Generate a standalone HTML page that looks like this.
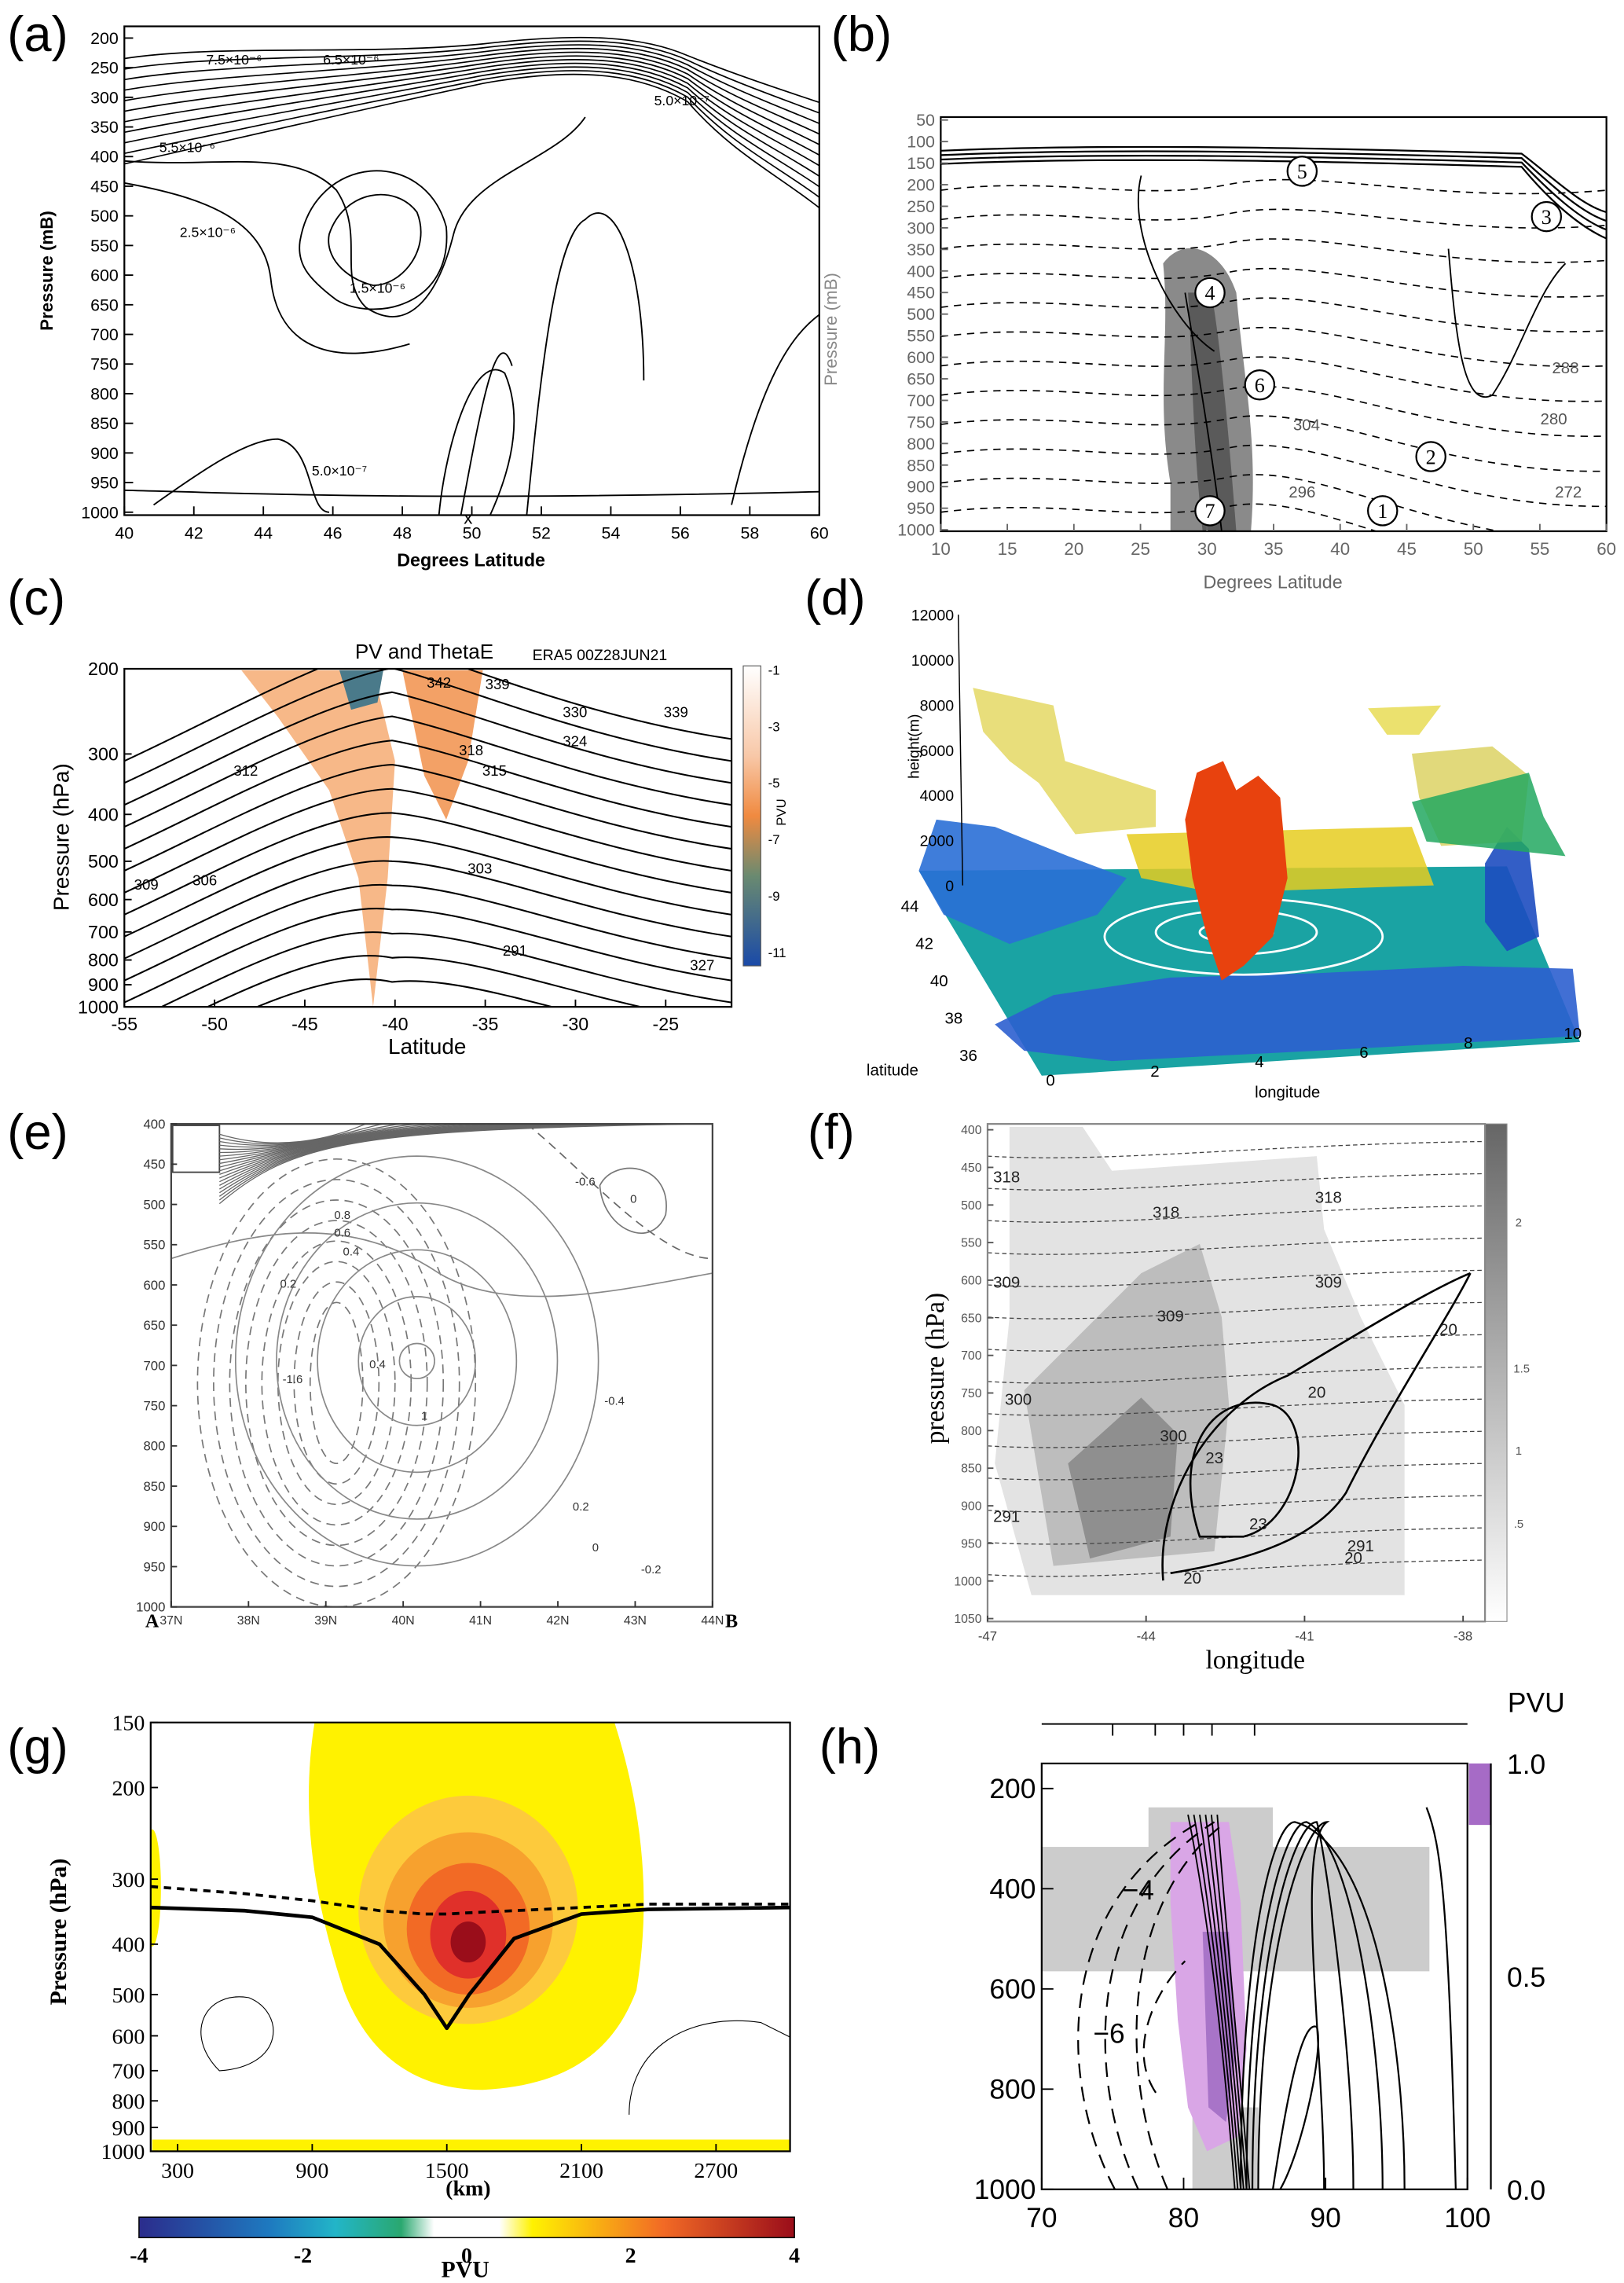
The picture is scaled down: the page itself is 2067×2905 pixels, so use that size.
<!DOCTYPE html>
<html><head><meta charset="utf-8">
<style>
html,body{margin:0;padding:0;background:#fff;}
svg{display:block;font-family:"Liberation Sans",sans-serif;}
.ser{font-family:"Liberation Serif",serif;}
</style></head>
<body>
<svg id="fig" xmlns="http://www.w3.org/2000/svg" width="2067" height="2905" viewBox="0 0 1110 1560" preserveAspectRatio="none">
<defs>
  <clipPath id="ca"><rect x="85" y="18" width="475" height="334"/></clipPath>
  <clipPath id="cb"><rect x="643" y="80" width="455" height="283"/></clipPath>
  <clipPath id="cc"><rect x="85" y="457" width="415" height="231"/></clipPath>
  <clipPath id="ce"><rect x="117" y="768" width="370" height="330"/></clipPath>
  <clipPath id="cf"><rect x="675" y="768" width="340" height="340"/></clipPath>
  <clipPath id="cg"><rect x="103" y="1177" width="437" height="293"/></clipPath>
  <clipPath id="ch"><rect x="712" y="1205" width="291" height="291"/></clipPath>
  <linearGradient id="fgrad" x1="0" y1="1" x2="0" y2="0"><stop offset="0" stop-color="#fff"/><stop offset="1" stop-color="#666"/></linearGradient>
  <linearGradient id="gbar" x1="0" x2="1"><stop offset="0" stop-color="#2b2c8c"/><stop offset="0.2" stop-color="#1e7ac0"/><stop offset="0.3" stop-color="#22b5c8"/><stop offset="0.4" stop-color="#2aa870"/><stop offset="0.45" stop-color="#fff"/><stop offset="0.55" stop-color="#fff"/><stop offset="0.6" stop-color="#fff200"/><stop offset="0.8" stop-color="#f26a25"/><stop offset="1" stop-color="#9a0d1a"/></linearGradient>
  <linearGradient id="cbar" x1="0" y1="0" x2="0" y2="1"><stop offset="0" stop-color="#fff"/><stop offset="0.3" stop-color="#f8c8a8"/><stop offset="0.5" stop-color="#f08a40"/><stop offset="0.7" stop-color="#6a8a70"/><stop offset="1" stop-color="#1a4aa8"/></linearGradient>
</defs>
<!-- Panel d static 3D imagery -->
<g>
  <polygon points="628,595 1030,592 1080,712 712,735" fill="#1aa3a3"/>
  <polygon points="628,595 640,560 680,565 730,585 770,600 750,625 690,645 645,625" fill="#2a6fd6" opacity="0.9"/>
  <polygon points="680,700 720,680 800,668 900,665 1000,660 1075,662 1080,708 900,718 760,725 700,718" fill="#2c5fcf" opacity="0.9"/>
  <polygon points="1015,590 1030,565 1045,580 1052,640 1030,650 1015,630" fill="#1d4cc0" opacity="0.9"/>
  <ellipse cx="850" cy="640" rx="95" ry="26" fill="none" stroke="#fff" stroke-width="1.5"/>
  <ellipse cx="845" cy="637" rx="55" ry="15" fill="none" stroke="#fff" stroke-width="1.5"/>
  <ellipse cx="845" cy="637" rx="25" ry="7" fill="none" stroke="#fff" stroke-width="1.5"/>
  <path d="M665,470 L720,482 L728,520 L790,540 L790,565 L735,570 L710,535 L690,520 L672,500 Z" fill="#e2d65a" opacity="0.8"/>
  <path d="M965,515 L1020,510 L1045,530 L1040,575 L985,578 L970,545 Z" fill="#d9cf5a" opacity="0.8"/>
  <path d="M935,484 L985,482 L970,502 L948,502 Z" fill="#e8dc55" opacity="0.85"/>
  <path d="M770,570 L965,565 L980,605 L830,610 L780,600 Z" fill="#e6cc20" opacity="0.85"/>
  <path d="M965,548 L1045,528 L1055,558 L1070,585 L975,575 Z" fill="#22a860" opacity="0.85"/>
  <path d="M818,528 L836,520 L845,540 L860,530 L875,545 L880,600 L870,640 L850,660 L835,670 L825,640 L815,600 L810,560 Z" fill="#e8420e"/>
</g>
<g clip-path="url(#cg)">
  <path d="M215,1177 L420,1177 C440,1240 445,1300 435,1360 C420,1400 390,1425 330,1428 C280,1428 250,1400 235,1360 C215,1300 205,1240 215,1177 Z" fill="#fff200"/>
  <ellipse cx="320" cy="1305" rx="75" ry="78" fill="#fdca3c"/>
  <ellipse cx="320" cy="1312" rx="58" ry="60" fill="#f7a12e"/>
  <ellipse cx="320" cy="1318" rx="42" ry="45" fill="#f26a25"/>
  <ellipse cx="320" cy="1322" rx="26" ry="30" fill="#e0302a"/>
  <ellipse cx="320" cy="1327" rx="12" ry="14" fill="#9a0d1a"/>
  <rect x="104" y="1462" width="436" height="8" fill="#fff200"/>
  <ellipse cx="104" cy="1290" rx="6" ry="40" fill="#fff200"/>
</g>
<g clip-path="url(#ch)">
  <rect x="712" y="1262" width="265" height="85" fill="#cccccc"/>
  <rect x="785" y="1235" width="85" height="30" fill="#cccccc"/>
  <rect x="815" y="1440" width="45" height="56" fill="#cccccc"/>
  <path d="M800,1245 L840,1245 L848,1300 L852,1400 L846,1460 L825,1470 L812,1440 L805,1380 L800,1300 Z" fill="#d9a6e6"/>
  <path d="M822,1320 L840,1320 L845,1400 L838,1450 L826,1440 Z" fill="#a874c8"/>
</g>
<rect x="1004" y="1205" width="15" height="42" fill="#a66bc6"/>
<g clip-path="url(#cc)">
  <path d="M165,458 L255,458 L270,520 L265,600 L255,688 L245,600 L225,540 L190,490 Z" fill="#f4a060" opacity="0.75"/>
  <path d="M275,458 L330,458 L320,520 L305,560 L290,530 Z" fill="#f08a40" opacity="0.8"/>
  <path d="M232,458 L262,458 L258,480 L240,485 Z" fill="#4a7a8a"/>
</g>
<g clip-path="url(#cf)">
  <path d="M690,770 L740,770 L760,800 L900,790 L905,840 L930,900 L960,960 L960,1090 L705,1090 L680,1000 L690,900 Z" fill="#e3e3e3"/>
  <path d="M700,950 L780,870 L820,850 L835,900 L840,960 L830,1060 L720,1070 Z" fill="#bdbdbd"/>
  <path d="M730,1000 L780,955 L805,980 L800,1050 L745,1065 Z" fill="#8f8f8f"/>
</g>
<rect x="1015" y="768" width="15" height="340" fill="url(#fgrad)" stroke="#888" stroke-width="0.6"/>
<rect x="95" y="1515" width="448" height="14" fill="url(#gbar)" stroke="#000" stroke-width="0.8"/>
<rect x="508" y="455" width="12" height="205" fill="url(#cbar)" stroke="#555" stroke-width="0.6"/>
<g id="dyn"></g>
</svg>
<script>
// ---- data arrays ----
const aLatTicks=[40,42,44,46,48,50,52,54,56,58,60];
const aPresTicks=[200,250,300,350,400,450,500,550,600,650,700,750,800,850,900,950,1000];
const bLatTicks=[10,15,20,25,30,35,40,45,50,55,60];
const bPresTicks=[50,100,150,200,250,300,350,400,450,500,550,600,650,700,750,800,850,900,950,1000];
const cLatTicks=[-55,-50,-45,-40,-35,-30,-25];
const cPresTicks=[200,300,400,500,600,700,800,900,1000];
const cBarTicks=[-1,-3,-5,-7,-9,-11];
const dHeightTicks=[0,2000,4000,6000,8000,10000,12000];
const dLonTicks=[0,2,4,6,8,10];
const dLatTicks=[36,38,40,42,44];
const eLatTicks=["37N","38N","39N","40N","41N","42N","43N","44N"];
const ePresTicks=[400,450,500,550,600,650,700,750,800,850,900,950,1000];
const fLonTicks=[-47,-44,-41,-38];
const fPresTicks=[400,450,500,550,600,650,700,750,800,850,900,950,1000,1050];
const gKmTicks=[300,900,1500,2100,2700];
const gPresTicks=[150,200,300,400,500,600,700,800,900,1000];
const gBarTicks=[-4,-2,0,2,4];
const hLonTicks=[70,80,90,100];
const hPresTicks=[200,400,600,800,1000];
const hPvuTicks=[0.0,0.5,1.0];
const gTropoKm=[180,600,900,1200,1400,1500,1600,1800,2100,2400,3030];
const gTropoP=[340,345,355,400,500,580,500,390,350,343,340];
const gDashP=[310,320,330,345,350,350,348,345,340,335,335];

const NS="http://www.w3.org/2000/svg";
const top0=document.getElementById('dyn');
let cur=top0;
function grp(clip){const g=document.createElementNS(NS,'g');if(clip)g.setAttribute('clip-path','url(#'+clip+')');top0.appendChild(g);cur=g;return g;}
function mk(tag,at){const e=document.createElementNS(NS,tag);for(const k in at)e.setAttribute(k,at[k]);cur.appendChild(e);return e;}
function lin(d0,d1,r0,r1){return v=>r0+(v-d0)/(d1-d0)*(r1-r0);}
function logs(d0,d1,r0,r1){return v=>r0+Math.log(v/d0)/Math.log(d1/d0)*(r1-r0);}
function txt(x,y,s,size,anchor,fill,cls,rot){const t=mk('text',{x:x,y:y,'font-size':size,'text-anchor':anchor||'middle',fill:fill||'#000'});if(cls)t.setAttribute('class',cls);if(rot)t.setAttribute('transform','rotate(-90 '+x+' '+y+')');t.textContent=s;return t;}
function box(x0,y0,x1,y1,name,col){const r=mk('rect',{x:x0,y:y0,width:x1-x0,height:y1-y0,fill:'none',stroke:col||'#000','stroke-width':1.2});

}
function xticks(vals,labels,sx,y,size,col,len,cls,dy){vals.forEach((v,i)=>{const x=sx(v);const l=mk('line',{x1:x,y1:y,x2:x,y2:y-(len||5),stroke:col||'#000','stroke-width':1});


const t=txt(x,y+(dy||16),labels[i],size,'middle',col,cls);

});}
function yticks(vals,labels,sy,x,size,col,len,cls,anchor,dx){vals.forEach((v,i)=>{const y=sy(v);const l=mk('line',{x1:x,y1:y,x2:x+(len||5),y2:y,stroke:col||'#000','stroke-width':1});


const t=txt(x+(dx||-4),y+size*0.35,labels[i],size,anchor||'end',col,cls);

});}
function label(x,y,s,size,name,opts){opts=opts||{};const t=txt(x,y,s,size,opts.anchor||'middle',opts.fill,opts.cls,opts.rot);if(opts.bold)t.setAttribute('font-weight','bold');

return t;}
function path(d,name,stroke,w,dash,fill){const p=mk('path',{d:d,stroke:stroke||'#000','stroke-width':w||1,fill:fill||'none'});if(dash)p.setAttribute('stroke-dasharray',dash);

return p;}

grp();
[['(a)',5,35],['(b)',568,35],['(c)',5,420],['(d)',550,420],['(e)',5,785],['(f)',552,785],['(g)',5,1205],['(h)',560,1205]].forEach(p=>{label(p[1],p[2],p[0],34,'panel-label',{anchor:'start'});});

// ---- Panel a ----
{const sx=lin(40,60,85,560),sy=lin(200,1000,26,350);
grp('ca');
for(let k=0;k<11;k++){const o=k*4.5;path('M85,'+(40+o*1.6)+' C150,'+(30+o*1.5)+' 250,'+(38+o*0.8)+' 330,'+(30+o*0.6)+' C400,'+(22+o*0.5)+' 440,'+(25+o*0.6)+' 470,'+(38+o*0.7)+' C500,'+(50+o*1.2)+' 530,'+(60+o*1.3)+' 560,'+(70+o*1.6),'contour-line','#000',0.9);}
path('M85,110 C150,115 200,100 230,130 C250,160 230,190 250,210 C280,230 300,200 310,160 C320,120 380,110 400,80','contour-line','#000',1);
path('M85,125 C140,135 180,150 185,190 C190,240 230,250 280,235','contour-line','#000',1);
path('M225,160 C235,130 270,125 285,145 C295,170 275,195 255,195 C235,190 222,175 225,160Z','contour-line','#000',1);
path('M205,165 C215,105 290,100 305,155 C310,210 255,220 230,205 C210,190 203,180 205,165Z','contour-line','#000',1);
path('M300,352 C305,300 325,240 345,255 C360,290 345,330 335,352','contour-line','#000',1);
path('M315,352 C330,270 340,220 350,250','contour-line','#000',1);
path('M360,352 C370,250 380,160 400,150 C420,130 440,180 440,260','contour-line','#000',1);
path('M500,345 C520,260 540,230 560,215','contour-line','#000',1);
path('M105,345 C140,320 170,300 190,300 C215,305 210,350 225,350','contour-line','#000',1);
path('M85,335 C200,338 300,342 560,336','contour-line','#000',1);
grp();
box(85,18,560,352,'panel-a-plot-area');
xticks(aLatTicks,aLatTicks.map(String),sx,352,11.5,'#000',6);
yticks(aPresTicks,aPresTicks.map(String),sy,85,11.5,'#000',6);
label(36,185,'Pressure (mB)',12,'y-axis-title',{rot:true,bold:true});
label(322,387,'Degrees Latitude',12.5,'x-axis-title',{bold:true});
[['7.5×10⁻⁶',160,44],['6.5×10⁻⁶',240,44],['5.5×10⁻⁶',128,104],['2.5×10⁻⁶',142,162],['1.5×10⁻⁶',258,200],['5.0×10⁻⁷',232,325],['5.0×10⁻⁷',466,72]].forEach(l=>label(l[1],l[2],l[0],9.5,'contour-label'));
label(320,358,'x',12,'marker-x');}

// ---- Panel b ----
{const sx=lin(10,60,643,1098),sy=lin(50,1000,82,362);
grp('cb');
path('M795,180 C800,230 790,270 800,330 L800,363 L855,363 C860,300 850,260 845,200 C835,170 810,160 795,180Z','shaded-region','none',0,null,'#8a8a8a');
path('M812,200 C815,250 815,300 822,363 L845,363 C840,300 835,240 828,200Z','dark-core','none',0,null,'#5a5a5a');
for(let k=0;k<4;k++){path('M643,'+(103+k*3)+' C760,'+(98+k*3)+' 900,'+(101+k*3)+' 1040,'+(105+k*3)+' C1060,'+(120+k*6)+' 1080,'+(140+k*5)+' 1098,'+(145+k*6),'contour-line','#000',1.2);}
for(let k=0;k<12;k++){const y=130+k*20;path('M643,'+y+' C720,'+(y-10)+' 780,'+(y+8)+' 840,'+(y-4)+' S980,'+(y+10+k*3)+' 1098,'+(y+k*4),'dashed-isentrope','#000',0.9,'5,4');}
path('M810,200 C820,260 830,320 835,363','solid-contour','#000',1);
path('M780,120 C770,160 800,220 830,240','solid-contour','#000',1);
path('M990,170 C995,230 1000,280 1020,270 C1040,240 1050,200 1070,180','solid-contour','#000',1);
grp();
box(643,80,1098,363,'panel-b-plot-area');
xticks(bLatTicks,bLatTicks.map(String),sx,363,12,'#666',5);
yticks(bPresTicks,bPresTicks.map(String),sy,643,11.5,'#666',5);
label(572,225,'Pressure (mB)',12,'y-axis-title',{rot:true,fill:'#888'});
label(870,402,'Degrees Latitude',12.5,'x-axis-title',{fill:'#666'});
[['5',890,117],['3',1057,148],['4',827,200],['6',861,263],['2',978,312],['1',945,349],['7',827,349]].forEach(c=>{const e=mk('circle',{cx:c[1],cy:c[2],r:10,fill:'#fff',stroke:'#000','stroke-width':1.2});


label(c[1],c[2]+5,c[0],14,'marker-number',{cls:'ser'});});
[['304',893,294],['296',890,340],['288',1070,255],['280',1062,290],['272',1072,340]].forEach(l=>label(l[1],l[2],l[0],11,'contour-label',{fill:'#555'}));}

// ---- Panel c ----
{const sx=lin(-55,-25,85,455),sy=logs(200,1000,457,688);
grp('cc');
for(let k=0;k<15;k++){const y=475+k*15;path('M85,'+(y+45)+' C150,'+(y+15)+' 220,'+(y-25)+' 268,'+(y-35+k*1.5)+' C320,'+(y-20)+' 400,'+(y+15)+' 500,'+(y+30),'theta-e-contour','#000',1.1);}
grp();
box(85,457,500,688,'panel-c-plot-area');
xticks(cLatTicks,cLatTicks.map(String),sx,688,12.5,'#000',5);
yticks(cPresTicks,cPresTicks.map(String),sy,85,12.5,'#000',5);
label(47,572,'Pressure (hPa)',15,'y-axis-title',{rot:true});
label(292,720,'Latitude',15,'x-axis-title');
label(290,450,'PV and ThetaE',14,'chart-title');
label(410,451,'ERA5 00Z28JUN21',10.5,'chart-subtitle');
label(537,555,'PVU',9,'colorbar-title',{rot:true});
const cb=lin(-1,-11,457,650);cBarTicks.forEach(v=>{label(525,cb(v)+4,String(v),9,'colorbar-tick-label',{anchor:'start'});});
[['309',100,608],['312',168,530],['306',140,605],['318',322,516],['330',393,490],['324',393,510],['315',338,530],['303',328,597],['291',352,653],['342',300,470],['339',340,471],['339',462,490],['327',480,663]].forEach(l=>label(l[1],l[2],l[0],10,'contour-label'));}

// ---- Panel d ----
{const sy=lin(0,12000,605,420);
grp();
dHeightTicks.forEach(v=>{label(652,sy(v)+4,String(v),10.5,'z-tick-label',{anchor:'end'});});
path('M655,420 L658,605','z-axis-line','#000',0.8);
label(628,510,'height(m)',10.5,'z-axis-title',{rot:true});
const sxl=lin(0,10,718,1075),syl=lin(0,10,742,710);
dLonTicks.forEach(v=>{label(sxl(v),syl(v),String(v),11,'x-tick-label');});
label(880,750,'longitude',11,'x-axis-title');
const slx=lin(36,44,668,628),sly=lin(36,44,725,623);dLatTicks.forEach(v=>{label(slx(v),sly(v),String(v),11,'y-tick-label',{anchor:'end'});});
label(610,735,'latitude',11,'y-axis-title');}

// ---- Panel e ----
{const sx=lin(0,7,117,487),sy=lin(400,1000,768,1098);
grp('ce');
mk('rect',{x:118,y:769,width:32,height:32,fill:'#fff',stroke:'#444'});
for(let k=0;k<20;k++){path('M150,'+(775+k*2.5)+' C200,'+(790-k*0.5)+' 240,'+(772)+' '+(250+k*12)+',768','dense-contour','#666',0.7);}
for(let k=0;k<8;k++){mk('ellipse',{cx:230,cy:945,rx:18+k*11,ry:55+k*14,fill:'none',stroke:'#777','stroke-width':0.9,'stroke-dasharray':'6,4'});}
for(let k=0;k<5;k++){mk('ellipse',{cx:285,cy:930,rx:12+k*28,ry:12+k*32,fill:'none',stroke:'#888','stroke-width':0.9});}
path('M360,768 C400,800 450,860 487,860','dashed-contour','#666',0.9,'6,4');
path('M410,810 C420,790 460,795 455,830 C445,855 412,840 410,810Z','contour-line','#777',0.9);
path('M117,860 C180,840 240,830 300,870 C350,900 430,880 487,870','contour-line','#888',0.9);
grp();
box(117,768,487,1098,'panel-e-plot-area','#444');
xticks(eLatTicks.map((_,i)=>i),eLatTicks,sx,1098,8.5,'#333',4,null,12);
yticks(ePresTicks,ePresTicks.map(String),sy,117,9,'#333',4);
label(104,1112,'A',13,'section-start',{cls:'ser',bold:true});label(500,1112,'B',13,'section-end',{cls:'ser',bold:true});
[['0.8',234,833],['0.6',234,845],['0.4',240,858],['0.2',197,880],['-0.6',400,810],['0',433,822],['-1.6',200,945],['1',290,970],['0.4',258,935],['-0.4',420,960],['0.2',397,1032],['0',407,1060],['-0.2',445,1075]].forEach(l=>label(l[1],l[2],l[0],8,'contour-label',{fill:'#333'}));}

// ---- Panel f ----
{const sx=lin(-47,-38,675,1000),sy=lin(400,1050,772,1106);
grp('cf');
for(let k=0;k<14;k++){const y=790+k*22;path('M675,'+y+' C760,'+(y+5)+' 860,'+(y-8)+' 1015,'+(y-10),'isentrope','#444',0.7,'3,2');}
path('M795,1080 C790,1020 830,960 880,940 C930,910 980,880 1005,870','w-contour','#000',1.4);
path('M800,1075 C860,1065 900,1050 920,1020 C950,960 990,900 1005,870','w-contour','#000',1.4);
path('M820,1050 C800,990 830,950 870,960 C900,970 890,1040 850,1050Z','w-contour','#000',1.4);
grp();
box(675,768,1015,1108,'panel-f-plot-area','#888');
xticks(fLonTicks,fLonTicks.map(String),sx,1108,9,'#444',4,null,13);
yticks(fPresTicks,fPresTicks.map(String),sy,675,8.5,'#555',4);
label(645,935,'pressure (hPa)',18,'y-axis-title',{rot:true,cls:'ser'});
label(858,1140,'longitude',18,'x-axis-title',{cls:'ser'});
[['2',1038,838],['1.5',1040,938],['1',1038,994],['.5',1038,1044]].forEach(l=>label(l[1],l[2],l[0],8,'colorbar-tick-label',{fill:'#555'}));
[['318',688,808],['318',797,832],['318',908,822],['309',688,880],['309',800,903],['309',908,880],['300',696,960],['300',802,985],['291',688,1040],['291',930,1060],['23',830,1000],['23',860,1045],['20',815,1082],['20',925,1068],['20',900,955],['20',990,912]].forEach(l=>label(l[1],l[2],l[0],11,'contour-label',{fill:'#222'}));}

// ---- Panel g ----
{const sx=lin(180,3030,103,540),sy=logs(150,1000,1177,1470);
grp('cg');
let d='';gTropoKm.forEach((k,i)=>{d+=(i?'L':'M')+sx(k).toFixed(1)+','+sy(gTropoP[i]).toFixed(1);});path(d,'tropopause-line','#000',2.5).setAttribute('stroke-linejoin','round');
d='';gTropoKm.forEach((k,i)=>{d+=(i?'L':'M')+sx(k).toFixed(1)+','+sy(gDashP[i]).toFixed(1);});path(d,'tropopause-dashed','#000',2,'5,4');
path('M150,1415 C125,1390 140,1360 170,1365 C195,1375 195,1412 150,1415Z','thin-contour','#000',0.6);
path('M430,1445 C430,1400 470,1375 520,1382 L540,1392','thin-contour','#000',0.6);
grp();
box(103,1177,540,1470,'panel-g-plot-area');
xticks(gKmTicks,gKmTicks.map(String),sx,1470,15,'#000',5,'ser',18);
yticks(gPresTicks,gPresTicks.map(String),sy,103,15,'#000',5,'ser');
label(45,1320,'Pressure (hPa)',16,'y-axis-title',{rot:true,cls:'ser',bold:true});
label(320,1500,'(km)',15,'x-axis-title',{cls:'ser',bold:true});
label(318,1556,'PVU',16,'colorbar-title',{cls:'ser',bold:true});
const gb=lin(-4,4,95,543);gBarTicks.forEach(v=>label(gb(v),1546,String(v),15,'colorbar-tick-label',{cls:'ser',bold:true}));}

// ---- Panel h ----
{const sx=lin(70,100,712,1003),sy=lin(150,1000,1205,1496);
grp('ch');
[[848,870,960],[852,878,945],[856,885,925],[860,892,905]].forEach(c=>path('M'+c[0]+',1496 C'+c[0]+',1330 '+c[1]+',1245 '+(c[1]+15)+',1245 C'+(c[2]-20)+',1260 '+c[2]+',1400 '+c[2]+',1496','solid-contour','#000',1.2));
path('M870,1496 C880,1430 890,1380 900,1385 C905,1400 890,1470 875,1496','solid-contour','#000',1.2);
[[762,722,820],[778,742,830],[798,765,838]].forEach(c=>path('M'+c[0]+',1496 C'+c[1]+',1420 '+c[1]+',1300 '+c[2]+',1245','dashed-contour','#000',1.2,'10,6'));
path('M790,1430 C770,1400 790,1360 810,1340','dashed-contour','#000',1.2,'10,6');
for(let k=0;k<6;k++){path('M'+(812+k*4)+',1240 C'+(828+k*2)+',1320 '+(838+k*2)+',1420 '+(844+k*2)+',1496','jet-contour','#000',1);}
path('M975,1235 C985,1260 990,1300 995,1496','solid-contour','#000',1.2);
grp();
box(712,1205,1003,1496,'panel-h-plot-area');
mk('line',{x1:1019,y1:1205,x2:1019,y2:1496,stroke:'#000','stroke-width':1.2});
xticks(hLonTicks,hLonTicks.map(String),sx,1496,19,'#000',8,null,26);
yticks(hPresTicks,hPresTicks.map(String),sy,712,19,'#000',8);
const sp=lin(0,1,1496,1205);hPvuTicks.forEach(v=>{label(1030,sp(v)+7,v.toFixed(1),19,'right-tick-label',{anchor:'start'});});
label(1050,1170,'PVU',19,'colorbar-title');
[75,78,80,82,85].forEach(v=>{const x=sx(v);const l=mk('line',{x1:x,y1:1178,x2:x,y2:1186,stroke:'#000'});

});
mk('line',{x1:712,y1:1178,x2:1003,y2:1178,stroke:'#000','stroke-width':1});
label(778,1298,'−4',19,'contour-label');label(758,1396,'−6',19,'contour-label');}
</script>
</body></html>
